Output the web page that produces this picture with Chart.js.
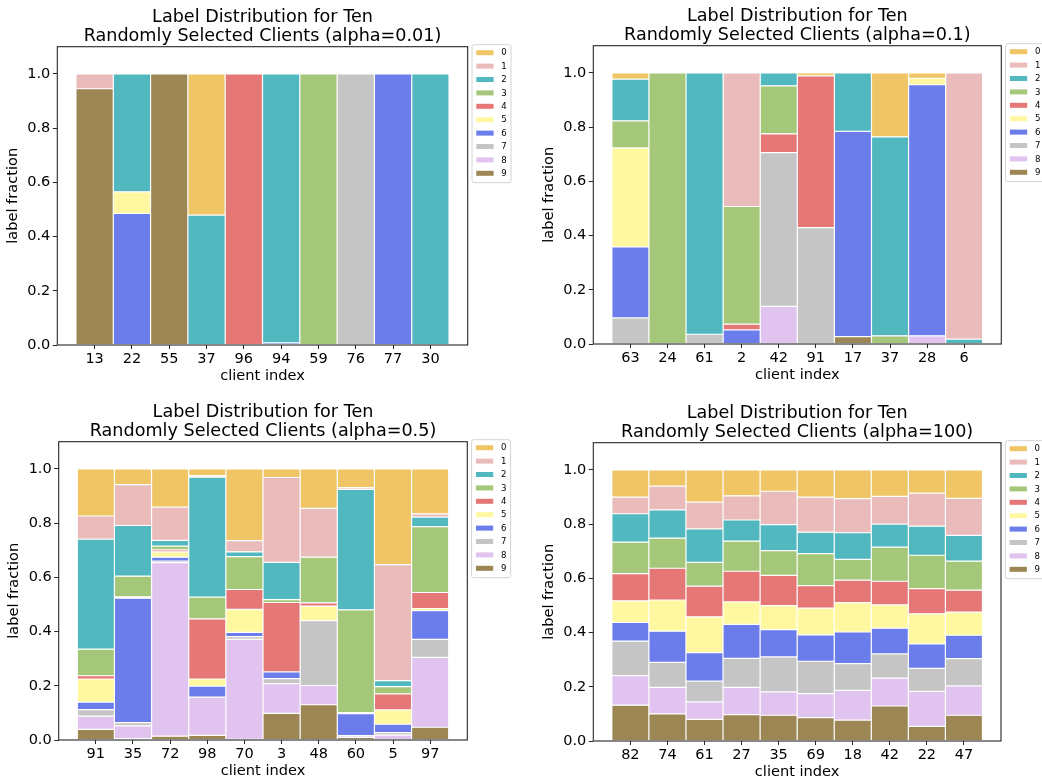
<!DOCTYPE html>
<html>
<head>
<meta charset="utf-8">
<script src="https://cdn.jsdelivr.net/npm/chart.js@4.4.0/dist/chart.umd.min.js"></script>
<style>
  html, body { margin: 0; padding: 0; background: #ffffff; }
  #fig { position: relative; width: 1042px; height: 777px; overflow: hidden; background: #ffffff; }
  #fig canvas { position: absolute; }
</style>
</head>
<body>
<div id="fig">
  <canvas id="c1" width="521" height="390" style="left:0px;top:0px"></canvas>
  <canvas id="c2" width="521" height="390" style="left:521px;top:0px"></canvas>
  <canvas id="c3" width="521" height="387" style="left:0px;top:390px"></canvas>
  <canvas id="c4" width="521" height="387" style="left:521px;top:390px"></canvas>
</div>
<script>
// Label classes and their colours
const classLabels = ['0', '1', '2', '3', '4', '5', '6', '7', '8', '9'];
const classColors = ['#f0c566', '#eabbbb', '#51b8c0', '#a5c77a', '#e57777',
                     '#fff8a1', '#6b7deb', '#c6c5c6', '#e1c3ef', '#9c8653'];

// y ticks shared by every panel
const yTickValues = [0, 0.2, 0.4, 0.6, 0.8, 1.0];

// alpha = 0.01 : client ids and per-client label fractions (classes 0..9)
const clientsA001 = ['13', '22', '55', '37', '96', '94', '59', '76', '77', '30'];
const fracA001 = [
  [0, 0.055, 0, 0, 0, 0, 0, 0, 0, 0.945],
  [0, 0, 0.435, 0, 0, 0.080, 0.485, 0, 0, 0],
  [0, 0, 0, 0, 0, 0, 0, 0, 0, 1.0],
  [0.521, 0, 0.479, 0, 0, 0, 0, 0, 0, 0],
  [0, 0, 0, 0, 1.0, 0, 0, 0, 0, 0],
  [0, 0, 0.992, 0, 0, 0, 0.008, 0, 0, 0],
  [0, 0, 0, 1.0, 0, 0, 0, 0, 0, 0],
  [0, 0, 0, 0, 0, 0, 0, 1.0, 0, 0],
  [0, 0, 0, 0, 0, 0, 1.0, 0, 0, 0],
  [0, 0, 1.0, 0, 0, 0, 0, 0, 0, 0]
];

// alpha = 0.1
const clientsA01 = ['63', '24', '61', '2', '42', '91', '17', '37', '28', '6'];
const fracA01 = [
  [0.023, 0, 0.154, 0.100, 0, 0.365, 0.262, 0.096, 0, 0],
  [0, 0, 0, 1.0, 0, 0, 0, 0, 0, 0],
  [0, 0, 0.964, 0, 0, 0, 0, 0.036, 0, 0],
  [0, 0.493, 0, 0.434, 0.021, 0, 0.052, 0, 0, 0],
  [0, 0, 0.048, 0.177, 0.069, 0, 0, 0.567, 0.139, 0],
  [0.011, 0, 0, 0, 0.560, 0, 0, 0.429, 0, 0],
  [0, 0, 0.216, 0, 0, 0, 0.757, 0, 0, 0.027],
  [0.236, 0, 0.734, 0.030, 0, 0, 0, 0, 0, 0],
  [0.020, 0, 0, 0, 0, 0.024, 0.926, 0, 0.030, 0],
  [0, 0.982, 0.018, 0, 0, 0, 0, 0, 0, 0]
];

// alpha = 0.5
const clientsA05 = ['91', '35', '72', '98', '70', '3', '48', '60', '5', '97'];
const fracA05 = [
  [0.174, 0.085, 0.406, 0.098, 0.012, 0.085, 0.028, 0.024, 0.049, 0.039],
  [0.058, 0.151, 0.187, 0.076, 0, 0.005, 0.459, 0.012, 0.047, 0.005],
  [0.141, 0.123, 0.021, 0.014, 0.007, 0.020, 0.014, 0.006, 0.640, 0.014],
  [0.025, 0.006, 0.442, 0.080, 0.222, 0.026, 0.041, 0, 0.141, 0.017],
  [0.265, 0.041, 0.018, 0.121, 0.073, 0.085, 0.016, 0.010, 0.369, 0.002],
  [0.032, 0.313, 0.137, 0.011, 0.256, 0, 0.025, 0.018, 0.110, 0.098],
  [0.146, 0.180, 0, 0.168, 0.012, 0.054, 0, 0.239, 0.071, 0.130],
  [0.069, 0.007, 0.444, 0.379, 0.004, 0, 0.081, 0, 0.006, 0.010],
  [0.353, 0.428, 0.022, 0.027, 0.059, 0.053, 0.031, 0.009, 0.018, 0],
  [0.166, 0.012, 0.035, 0.243, 0.059, 0.008, 0.106, 0.066, 0.258, 0.047]
];

// alpha = 100
const clientsA100 = ['82', '74', '61', '27', '35', '69', '18', '42', '22', '47'];
const fracA100 = [
  [0.101, 0.061, 0.105, 0.116, 0.100, 0.080, 0.069, 0.127, 0.109, 0.132],
  [0.060, 0.088, 0.104, 0.111, 0.117, 0.115, 0.115, 0.092, 0.098, 0.100],
  [0.119, 0.099, 0.123, 0.088, 0.113, 0.132, 0.105, 0.077, 0.064, 0.080],
  [0.096, 0.089, 0.078, 0.111, 0.113, 0.083, 0.125, 0.107, 0.101, 0.097],
  [0.079, 0.123, 0.096, 0.091, 0.112, 0.088, 0.101, 0.129, 0.086, 0.095],
  [0.101, 0.129, 0.079, 0.118, 0.083, 0.099, 0.097, 0.119, 0.089, 0.086],
  [0.106, 0.126, 0.098, 0.077, 0.083, 0.108, 0.117, 0.098, 0.110, 0.077],
  [0.098, 0.102, 0.085, 0.126, 0.087, 0.086, 0.095, 0.089, 0.103, 0.129],
  [0.086, 0.122, 0.107, 0.123, 0.093, 0.111, 0.090, 0.085, 0.129, 0.054],
  [0.105, 0.137, 0.095, 0.107, 0.081, 0.085, 0.086, 0.101, 0.108, 0.095]
];

const FONT = '"DejaVu Sans", "Liberation Sans", sans-serif';
const INK = '#000000';
const FRAME = '#262626';
const TICK_SIZE = 14.5;

// Panel set-up: plot-area rectangle inside each canvas
const panels = [
  { id: 'c1', alpha: '0.01', clients: clientsA001, frac: fracA001, area: { l: 57.3, t: 46.7, r: 467.7, b: 345 } },
  { id: 'c2', alpha: '0.1',  clients: clientsA01,  frac: fracA01,  area: { l: 72.3, t: 45.7, r: 480.3, b: 344 } },
  { id: 'c3', alpha: '0.5',  clients: clientsA05,  frac: fracA05,  area: { l: 58.7, t: 51.7, r: 467.3, b: 350 } },
  { id: 'c4', alpha: '100',  clients: clientsA100, frac: fracA100, area: { l: 72.3, t: 52.7, r: 480.0, b: 351 } }
];

// Frame, titles, axis labels and the legend box
function decorations(p) {
  return {
    id: 'decor_' + p.id,
    afterDraw(chart) {
      const ctx = chart.ctx;
      const ca = chart.chartArea;
      const cx = (ca.left + ca.right) / 2;
      ctx.save();

      // axes frame
      ctx.strokeStyle = FRAME;
      ctx.lineWidth = 1.1;
      ctx.strokeRect(ca.left, ca.top, ca.right - ca.left, ca.bottom - ca.top);

      // two-line title
      ctx.fillStyle = INK;
      ctx.font = '17.6px ' + FONT;
      ctx.textAlign = 'center';
      ctx.textBaseline = 'alphabetic';
      ctx.fillText('Label Distribution for Ten', cx, ca.top - 25);
      ctx.fillText('Randomly Selected Clients (alpha=' + p.alpha + ')', cx, ca.top - 5.6);

      // axis titles
      ctx.font = '14.6px ' + FONT;
      ctx.fillText('client index', cx, ca.bottom + 35);
      ctx.save();
      ctx.translate(ca.left - 44, (ca.top + ca.bottom) / 2);
      ctx.rotate(-Math.PI / 2);
      ctx.textBaseline = 'middle';
      ctx.fillText('label fraction', 0, 0);
      ctx.restore();

      // legend
      const bx = ca.right + 4.3, by = ca.top - 2, bw = 39, bh = 138;
      ctx.fillStyle = 'rgba(255,255,255,0.8)';
      ctx.strokeStyle = '#d4d4d4';
      ctx.lineWidth = 1;
      ctx.beginPath();
      if (ctx.roundRect) ctx.roundRect(bx, by, bw, bh, 2); else ctx.rect(bx, by, bw, bh);
      ctx.fill();
      ctx.stroke();
      ctx.font = '8.6px ' + FONT;
      ctx.textAlign = 'left';
      ctx.textBaseline = 'middle';
      classLabels.forEach((lab, k) => {
        const cy = by + 8 + k * 13.4;
        ctx.fillStyle = classColors[k];
        ctx.fillRect(bx + 4.3, cy - 2.5, 17.3, 5);
        ctx.fillStyle = INK;
        ctx.fillText(lab, bx + 29.3, cy + 0.5);
      });
      ctx.restore();
    }
  };
}

function makeChart(p) {
  const canvas = document.getElementById(p.id);
  const W = canvas.width, H = canvas.height;
  const yW = 50, xH = 40;

  // class 9 is stacked first (bottom), class 0 last (top)
  const datasets = [];
  for (let k = classLabels.length - 1; k >= 0; k--) {
    datasets.push({
      label: classLabels[k],
      data: p.clients.map((c, i) => ({ x: i, y: p.frac[i][k] > 0 ? p.frac[i][k] : null })),
      backgroundColor: classColors[k],
      borderColor: '#ffffff',
      borderWidth: 0.6,
      borderSkipped: false,
      inflateAmount: 0,
      barPercentage: 1,
      categoryPercentage: 1
    });
  }

  return new Chart(canvas, {
    type: 'bar',
    data: { datasets },
    options: {
      responsive: false,
      animation: false,
      devicePixelRatio: 1,
      events: [],
      layout: {
        padding: { left: p.area.l - yW, top: p.area.t, right: W - p.area.r, bottom: H - p.area.b - xH }
      },
      plugins: { legend: { display: false }, tooltip: { enabled: false }, title: { display: false } },
      scales: {
        x: {
          type: 'linear',
          min: -1,
          max: 10,
          stacked: true,
          offset: false,
          afterBuildTicks: s => { s.ticks = p.clients.map((c, i) => ({ value: i })); },
          afterFit: s => { s.height = xH; },
          ticks: {
            autoSkip: false,
            maxRotation: 0,
            padding: 2,
            color: INK,
            font: { family: FONT, size: TICK_SIZE },
            callback: v => p.clients[v]
          },
          grid: { offset: false, drawOnChartArea: false, drawTicks: true, tickLength: 4, tickColor: FRAME, tickWidth: 1 },
          border: { display: false }
        },
        y: {
          min: 0,
          max: 1.1,
          stacked: true,
          afterBuildTicks: s => { s.ticks = yTickValues.map(v => ({ value: v })); },
          afterFit: s => { s.width = yW; },
          ticks: {
            padding: 2.5,
            color: INK,
            font: { family: FONT, size: TICK_SIZE },
            callback: v => v.toFixed(1)
          },
          grid: { offset: false, drawOnChartArea: false, drawTicks: true, tickLength: 4.5, tickColor: FRAME, tickWidth: 1 },
          border: { display: false }
        }
      }
    },
    plugins: [decorations(p)]
  });
}

panels.forEach(makeChart);
</script>
</body>
</html>
